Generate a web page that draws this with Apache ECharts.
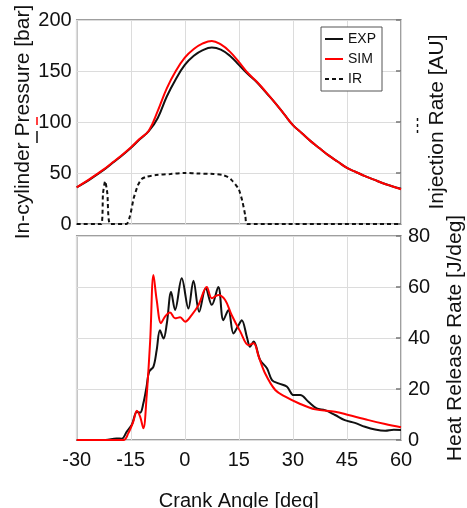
<!DOCTYPE html>
<html>
<head>
<meta charset="utf-8">
<script src="https://cdn.jsdelivr.net/npm/echarts@6/dist/echarts.min.js"></script>
<style>html,body{margin:0;padding:0;background:#fff}#c{width:467px;height:508px}</style>
</head>
<body>
<div id="c"></div>
<script>
// Crank angle grid for pressure traces
const pAngle = [-30,-27.5,-25,-22.5,-20,-17.5,-15,-12.5,-10,-7.5,-5,-2.5,0,2.5,5,7.5,10,12.5,15,17.5,20,22.5,25,27.5,30,32.5,35,37.5,40,42.5,45,47.5,50,52.5,55,57.5,60];
const pExp = [36,41,47,53,60,67,74.5,83,91,104,125,142,156,165,170.5,173,171,165,156,147,139,129,119,108,97,89,81,74,67,61,55,51,47,43.5,40,37,34.5];
const pSim = [36,41.5,47.5,53.5,60.5,67.5,75,83.5,91.5,111,133,150,163,171.5,177,179.5,176,169,159,148,139.5,129.5,119,108,97,89,81,74,67,61,55,51,47,43.5,40,37,34];
// Injection rate (AU, plotted on pressure scale)
const irAngle = [-30,-23.2,-22.7,-22.1,-21.5,-20.7,-16.2,-15.2,-14.2,-13,-12,-10.5,-8,-4,0,4,8,10.5,12,13,14,15,16,16.8,17.3,60];
const irVal   = [0,0,30,42,30,0,0,8,25,38,44,46.5,48,49,50,49.5,49,48,46,43,39,34,22,8,0,0];
// Heat release rate
const hExpAngle = [-30,-22,-19,-17.5,-16.1,-14.7,-13.3,-12.4,-11.5,-10.6,-9.9,-8.7,-7.8,-6.9,-5.9,-5,-3.8,-2.7,-0.85,1,2.4,4,5.8,7.5,9.3,10.7,12.1,13.5,14.9,15.8,17.3,18.1,19.1,20.9,22.8,24.2,26,28.3,30.2,32,34.3,36.6,38.9,41.7,44.4,47.2,50,52.8,55.6,58,60];
const hExp = [0,0,0.6,0.5,3.3,6,11,10.7,14.4,21,26.8,28.8,35.3,43,39.8,45.6,58,51,63.4,51.6,62.5,50.3,59.5,53,60,47,51,41.8,45,47,40,36.6,38.6,31.4,28.1,23.5,22.2,21,17.6,17.6,15,12.4,11.7,9.8,7.8,6.7,5.2,4.1,3.6,4,3.9];
const hSimAngle = [-30,-17,-15.7,-14.3,-13.3,-12.4,-11.5,-10.6,-9.6,-8.7,-7.8,-6.6,-5.5,-4.1,-2.7,-1.3,0.1,1.9,3.8,6.1,7.5,9.3,11.2,13,15.4,17.7,19.1,20.5,22.3,25.1,27.9,31.6,36.2,41.7,45.4,51,55.6,60];
const hSim = [0,0,2.6,7.2,11.5,9.2,4.6,17,39.2,64.7,54.9,45.8,48.4,50,47.7,48.1,46.4,49,52.9,60,55.6,56.9,54.9,49,42.5,37.2,37.9,32.7,26.1,19.6,17,14.4,12,11.1,9.8,7.8,6.3,5];
// Ticks
const xTicks = {min:-30, max:60, interval:15};
const pTicks = {min:0, max:200, interval:50};
const hTicks = {min:0, max:80, interval:20};

const zip = (a,b) => a.map((v,i)=>[v,b[i]]);
const FONT = 'Liberation Sans, Arial, sans-serif';
const chart = echarts.init(document.getElementById('c'), null, {renderer:'canvas'});
const gridCommon = {left:76.7, right:66, show:true, borderColor:'#808080', borderWidth:1.5, backgroundColor:'#fff', containLabel:false, outerBoundsMode:'none'};
const splitLine = {show:true, lineStyle:{color:'#dcdcdc', width:1}};
chart.setOption({
  animation:false,
  textStyle:{fontFamily:FONT},
  grid:[Object.assign({top:20, height:204}, gridCommon), Object.assign({top:236, height:204}, gridCommon)],
  legend:{
    data:['EXP','SIM','IR'], orient:'vertical', left:321, top:27,
    backgroundColor:'#fff', borderColor:'#555', borderWidth:1,
    padding:[5,6,5,3], itemGap:6, itemWidth:18, itemHeight:14,
    itemStyle:{opacity:0},
    textStyle:{fontSize:14, color:'#111', fontFamily:FONT}
  },
  xAxis:[
    Object.assign({gridIndex:0, type:'value', axisLabel:{show:false}, axisTick:{show:false}, axisLine:{show:false}, splitLine}, xTicks),
    Object.assign({gridIndex:1, type:'value', axisLabel:{fontSize:20, color:'#111', margin:10, fontFamily:FONT}, axisTick:{show:false}, axisLine:{show:false}, splitLine,
      name:'Crank Angle [deg]', nameLocation:'middle', nameGap:51, nameMoveOverlap:false, nameTextStyle:{fontSize:20, color:'#111', fontFamily:FONT}}, xTicks)
  ],
  yAxis:[
    Object.assign({gridIndex:0, type:'value', position:'left', axisLabel:{fontSize:20, color:'#111', margin:5, fontFamily:FONT}, axisTick:{show:false}, axisLine:{show:false}, splitLine,
      name:'In-cylinder Pressure [bar]', nameLocation:'middle', nameGap:43, nameMoveOverlap:false, nameTextStyle:{fontSize:21, color:'#111', fontFamily:FONT}}, pTicks),
    Object.assign({gridIndex:0, type:'value', position:'right', axisLabel:{show:false}, axisTick:{show:true, inside:true, length:5, lineStyle:{color:'#777', width:1.5}}, axisLine:{show:false}, splitLine:{show:false},
      name:'Injection Rate [AU]', nameLocation:'middle', nameGap:26, nameMoveOverlap:false, nameTextStyle:{fontSize:21, color:'#111', fontFamily:FONT}}, pTicks),
    Object.assign({gridIndex:1, type:'value', position:'left', axisLabel:{show:false}, axisTick:{show:false}, axisLine:{show:false}, splitLine}, hTicks),
    Object.assign({gridIndex:1, type:'value', position:'right', axisLabel:{fontSize:20, color:'#111', margin:7, fontFamily:FONT}, axisTick:{show:true, inside:true, length:5, lineStyle:{color:'#777', width:1.5}}, axisLine:{show:false}, splitLine:{show:false},
      name:'Heat Release Rate [J/deg]', nameLocation:'middle', nameGap:44, nameMoveOverlap:false, nameTextStyle:{fontSize:21, color:'#111', fontFamily:FONT}}, hTicks)
  ],
  series:[
    {name:'IR', type:'line', xAxisIndex:0, yAxisIndex:1, data:zip(irAngle, irVal), symbol:'none', smooth:0.2, lineStyle:{color:'#111', width:2, type:[4,3]}, itemStyle:{color:'#111'}, z:3},
    {name:'EXP', type:'line', xAxisIndex:0, yAxisIndex:0, data:zip(pAngle, pExp), symbol:'none', smooth:0.4, lineStyle:{color:'#111', width:2}, itemStyle:{color:'#111'}, z:4},
    {name:'SIM', type:'line', xAxisIndex:0, yAxisIndex:0, data:zip(pAngle, pSim), symbol:'none', smooth:0.4, lineStyle:{color:'#ff0000', width:2}, itemStyle:{color:'#ff0000'}, z:5},
    {name:'EXP', type:'line', xAxisIndex:1, yAxisIndex:3, data:zip(hExpAngle, hExp), symbol:'none', smooth:0.35, lineStyle:{color:'#111', width:2}, itemStyle:{color:'#111'}, z:4},
    {name:'SIM', type:'line', xAxisIndex:1, yAxisIndex:3, data:zip(hSimAngle, hSim), symbol:'none', smooth:0.35, lineStyle:{color:'#ff0000', width:2}, itemStyle:{color:'#ff0000'}, z:5}
  ],
  graphic:[
    {type:'line', shape:{x1:37, y1:117, x2:37, y2:125}, style:{stroke:'#ff0000', lineWidth:1.5}},
    {type:'line', shape:{x1:37, y1:131, x2:37, y2:143}, style:{stroke:'#111', lineWidth:1.5}},
    {type:'line', shape:{x1:417.5, y1:118, x2:417.5, y2:134}, style:{stroke:'#111', lineWidth:1.5, lineDash:[3,3]}}
  ]
});
</script>
</body>
</html>
